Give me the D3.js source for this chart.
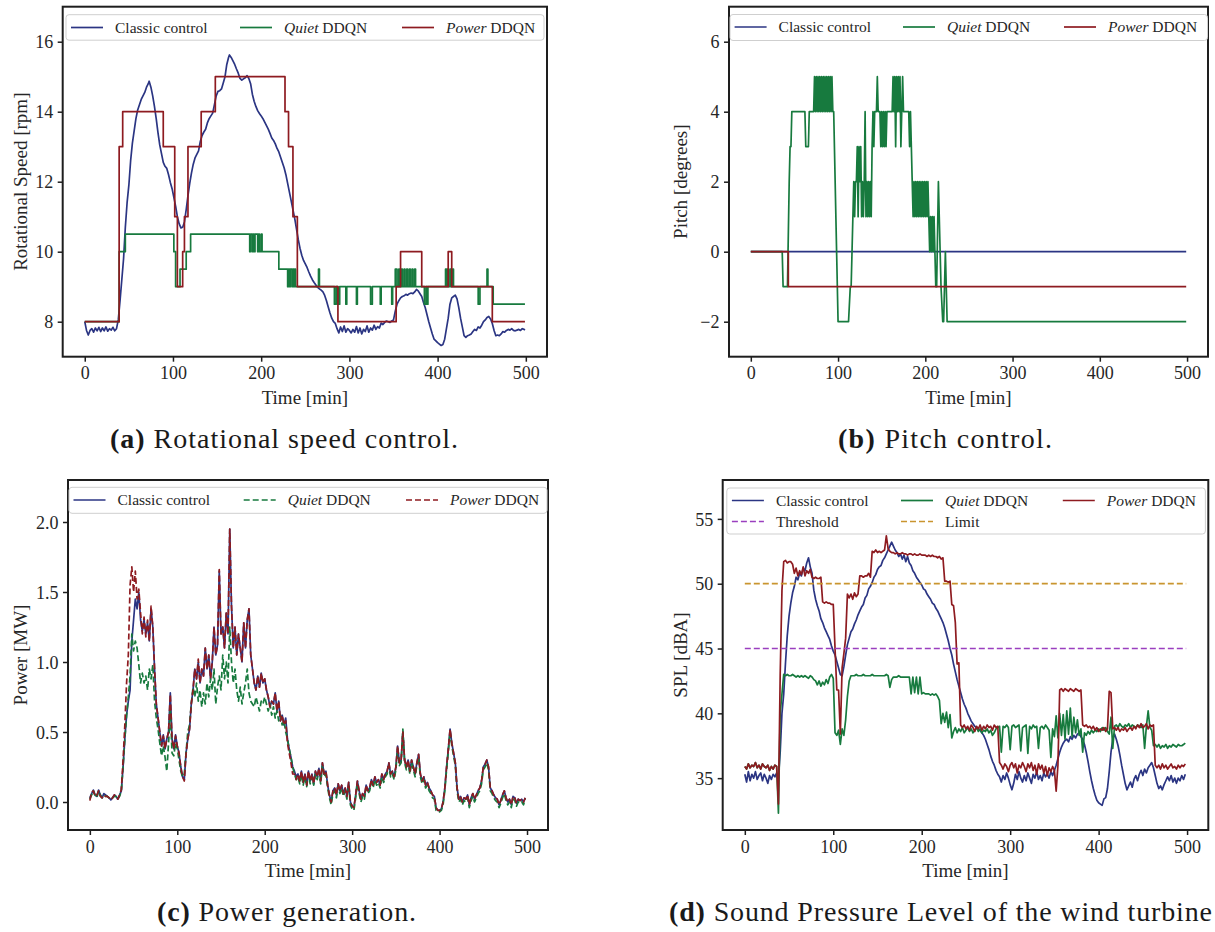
<!DOCTYPE html>
<html><head><meta charset="utf-8">
<script src="https://cdn.jsdelivr.net/npm/d3@7"></script>
<style>
body{margin:0;background:#fff}
svg{display:block}
</style>
</head><body>
<svg id="fig" width="1215" height="932"></svg>
<script>
// ---------------- DATA ----------------
const xTicks = [0, 100, 200, 300, 400, 500];
const speedTicks = [8, 10, 12, 14, 16];
const pitchTicks = [-2, 0, 2, 4, 6];
const powerTicks = [0, 0.5, 1.0, 1.5, 2.0];
const splTicks = [35, 40, 45, 50, 55];

const seriesNames = ["Classic control", "Quiet DDQN", "Power DDQN"];
const refNames = ["Threshold", "Limit"];

// (a) Rotational speed [rpm] — [time, value]
const classicSpeed = [[0,8.0],[2,7.75],[4,7.62],[6,7.75],[8,7.8],[10,7.7],[12,7.82],[14,7.74],[16,7.84],[18,7.72],[20,7.82],[22,7.74],[24,7.85],[26,7.73],[28,7.8],[30,7.76],[32,7.84],[34,7.74],[36,7.8],[38,8.05],[40,8.6],[42,9.2],[44,9.8],[46,10.7],[48,11.4],[50,11.9],[52,12.6],[54,13.1],[56,13.45],[58,13.8],[60,14.05],[62,14.2],[64,14.35],[66,14.45],[68,14.55],[70,14.7],[72,14.8],[73,14.87],[75,14.7],[77,14.45],[79,14.15],[81,13.8],[83,13.4],[85,13.05],[87,12.8],[89,12.55],[91,12.44],[93,12.38],[95,12.2],[97,11.98],[99,11.8],[101,11.55],[103,11.3],[105,11.0],[107,10.8],[109,10.68],[111,10.7],[113,10.85],[115,11.2],[117,11.6],[119,11.95],[121,12.25],[123,12.5],[125,12.68],[127,12.78],[129,12.88],[131,13.15],[133,13.32],[135,13.42],[137,13.5],[139,13.68],[141,13.8],[143,13.88],[145,13.96],[147,14.2],[149,14.45],[151,14.58],[153,14.6],[155,14.65],[157,14.82],[159,15.0],[161,15.35],[163,15.55],[164,15.62],[166,15.55],[168,15.45],[170,15.35],[172,15.22],[174,15.1],[176,14.95],[178,14.9],[180,14.94],[182,14.97],[184,15.03],[186,14.95],[188,14.8],[190,14.5],[192,14.3],[194,14.15],[196,14.03],[198,13.95],[200,13.88],[202,13.8],[204,13.7],[206,13.6],[208,13.5],[210,13.38],[212,13.25],[214,13.18],[216,13.08],[218,12.95],[220,12.85],[222,12.7],[224,12.55],[226,12.4],[228,12.2],[230,11.95],[232,11.7],[234,11.45],[236,11.2],[238,10.95],[240,10.65],[242,10.35],[244,10.1],[246,9.9],[248,9.75],[250,9.65],[252,9.55],[254,9.42],[256,9.3],[258,9.2],[260,9.12],[262,9.05],[264,8.98],[266,8.94],[268,8.9],[270,8.85],[272,8.75],[274,8.6],[276,8.42],[278,8.25],[280,8.1],[282,8.0],[284,7.95],[286,7.8],[288,7.68],[290,7.85],[292,7.72],[294,7.88],[296,7.7],[298,7.8],[300,7.75],[302,7.68],[304,7.78],[306,7.7],[308,7.86],[310,7.68],[312,7.82],[314,7.65],[316,7.78],[318,7.72],[320,7.88],[322,7.7],[324,7.82],[326,7.76],[328,7.9],[330,7.78],[332,7.86],[334,7.82],[336,7.96],[338,7.92],[340,7.98],[342,8.02],[344,8.0],[346,7.98],[348,8.02],[350,8.05],[352,8.3],[354,8.5],[356,8.6],[358,8.68],[360,8.72],[362,8.74],[364,8.78],[366,8.76],[368,8.8],[370,8.82],[372,8.8],[374,8.85],[376,8.92],[378,8.88],[380,8.8],[382,8.72],[384,8.55],[386,8.4],[388,8.2],[390,8.0],[392,7.82],[394,7.65],[396,7.5],[398,7.45],[400,7.4],[402,7.36],[404,7.32],[406,7.35],[408,7.5],[410,7.8],[412,8.1],[414,8.5],[416,8.68],[418,8.72],[420,8.76],[422,8.65],[424,8.4],[426,8.1],[428,7.85],[430,7.6],[432,7.55],[434,7.6],[436,7.62],[438,7.65],[440,7.72],[442,7.78],[444,7.75],[446,7.85],[448,7.82],[450,7.9],[452,8.0],[454,8.05],[456,8.12],[458,8.15],[460,8.08],[462,7.95],[464,7.75],[466,7.6],[468,7.62],[470,7.6],[472,7.65],[474,7.72],[476,7.7],[478,7.75],[480,7.78],[482,7.76],[484,7.8],[486,7.75],[488,7.74],[490,7.76],[492,7.78],[494,7.75],[496,7.8],[498,7.78],[499,7.76]];
// step series: [time of change, new value]
const quietSpeed = [[0,8],[39,10],[46,10.5],[101,10],[103,9],[108,9.5],[115,10],[120,10.5],[187,10],[188,10.5],[190,10],[191,10.5],[192,10],[193,10.5],[196,10],[197,10.5],[198,10],[200,10.5],[201,10],[220,9.5],[230,9],[231,9.5],[232,9],[233,9.5],[235,9],[236,9.5],[237,9],[238,9.5],[239,9],[265,9.5],[266,9],[283,8.5],[285,9],[287,8.5],[289,9],[296,8.5],[297,9],[308,8.5],[309,9],[324,8.5],[326,9],[335,8.5],[336,9],[348,8.5],[349,9],[352,9.5],[354,9],[356,9.5],[357,9],[359,9.5],[360,9],[362,9.5],[363,9],[365,9.5],[366,9],[368,9.5],[369,9],[371,9.5],[372,9],[374,9.5],[375,9],[385,8.5],[387,9],[388,8.5],[389,9],[409,9.5],[410,9],[411,9.5],[412,9],[414,9.5],[415,9],[417,9.5],[418,9],[446,8.5],[448,9],[456,9.5],[457,9],[463,8.5],[499,8.5]];
const powerSpeed = [[0,8],[39,13],[43,14],[89,13],[102,11],[105,9],[111,10],[113,11],[117,13],[132,14],[148,15],[227,14],[231,13],[236,11],[241,9],[287,8],[353,9],[358,10],[382,9],[412,10],[416,9],[462,8],[499,8]];

// (b) Pitch [degrees] — [time, value]
const classicPitch = [[0,0],[499,0]];
const quietPitch = [[0,0],[36,0],[37,-1],[42,-1],[44,2],[45,3],[46,3],[47,4],[62,4],[63,3],[66,3],[67,4],[72,4],[73,5],[74,4],[75,5],[76,4],[77,5],[78,4],[79,5],[80,4],[81,5],[82,4],[83,5],[84,4],[85,5],[86,4],[87,5],[88,4],[89,5],[90,4],[91,5],[92,4],[93,5],[94,4],[95,4],[100,-2],[112,-2],[114,-1],[115,-1],[118,2],[119,1],[120,2],[121,2],[122,3],[123,1],[124,3],[125,2],[126,3],[127,1],[128,2],[129,1],[130,2],[131,4],[132,1],[133,2],[134,1],[135,2],[136,1],[137,2],[138,1],[139,3],[140,4],[141,3],[142,4],[144,4],[145,5],[146,4],[148,4],[149,3],[150,4],[151,3],[152,4],[153,3],[154,4],[155,3],[156,4],[162,4],[163,5],[164,4],[165,5],[166,3],[167,5],[168,4],[169,5],[170,4],[171,5],[172,3],[173,4],[174,5],[175,4],[181,4],[182,3],[183,4],[184,3],[185,2],[186,1],[187,2],[188,1],[189,2],[190,1],[191,2],[192,1],[193,2],[194,1],[195,2],[196,1],[197,2],[198,1],[199,2],[200,1],[201,2],[202,1],[203,2],[204,1],[205,0],[206,1],[207,0],[208,1],[209,0],[210,1],[211,0],[212,-1],[213,-1],[215,2],[216,1],[218,-1],[220,-2],[221,-2],[223,0],[225,-2],[499,-2]];
const powerPitch = [[0,0],[43,0],[43,-1],[499,-1]];

// (c) Power [MW] and (d) SPL [dBA]: one value every 2 minutes, t = 0, 2, ..., 498
const sampleStep = 2;
const classicPower = [
 0.03,0.06,0.085,0.05,0.04,0.085,0.05,0.03,0.06,0.05,
 0.04,0.03,0.015,0.03,0.05,0.04,0.02,0.05,0.08,0.25,
 0.45,0.62,0.72,0.8,1.15,1.3,1.45,1.38,1.5,1.3,
 1.22,1.3,1.2,1.28,1.15,1.38,1.25,0.95,0.7,0.6,
 0.5,0.4,0.48,0.38,0.45,0.5,0.78,0.45,0.38,0.48,
 0.4,0.35,0.25,0.18,0.16,0.35,0.45,0.52,0.7,0.8,
 0.95,0.88,1.0,0.85,0.95,0.9,1.1,0.95,1.05,0.88,
 1.0,1.25,1.05,1.12,1.65,1.2,1.25,1.1,1.35,1.2,
 1.95,1.4,1.1,1.25,1.05,1.2,1.1,1.0,1.28,1.1,
 1.3,1.38,1.05,0.95,0.85,0.8,0.9,0.82,0.92,0.85,
 0.88,0.8,0.75,0.68,0.72,0.7,0.78,0.65,0.72,0.58,
 0.62,0.55,0.6,0.45,0.38,0.32,0.25,0.22,0.18,0.2,
 0.15,0.22,0.14,0.2,0.12,0.22,0.15,0.2,0.13,0.22,
 0.18,0.24,0.15,0.28,0.2,0.22,0.12,0.05,0.0,0.08,
 0.1,0.05,0.13,0.08,0.12,0.06,0.1,0.04,0.14,0.0,
 -0.03,-0.04,0.05,0.15,0.08,0.02,0.06,0.04,0.12,0.08,
 0.1,0.16,0.12,0.18,0.14,0.16,0.12,0.2,0.16,0.2,
 0.22,0.28,0.2,0.22,0.18,0.25,0.4,0.28,0.3,0.5,
 0.3,0.25,0.3,0.22,0.3,0.25,0.2,0.28,0.34,0.2,
 0.15,0.18,0.12,0.14,0.1,0.08,0.05,0.04,-0.04,-0.06,
 -0.06,-0.05,0.0,0.1,0.25,0.38,0.52,0.42,0.35,0.28,
 0.1,0.02,0.04,0.0,0.03,0.02,0.05,-0.02,0.03,0.06,
 0.02,0.05,0.08,0.1,0.15,0.25,0.27,0.3,0.25,0.1,
 0.08,0.05,0.03,0.02,-0.02,0.01,0.05,0.08,0.03,0.0,
 0.02,-0.02,0.04,0.03,-0.01,0.02,0.01,0.02,0.0,0.03];
const quietPower = [
 0.02,0.05,0.08,0.05,0.03,0.08,0.05,0.03,0.05,0.04,
 0.04,0.03,0.02,0.03,0.04,0.04,0.02,0.04,0.08,0.25,
 0.45,0.62,0.75,0.9,1.2,1.08,1.15,1.1,0.98,0.85,
 0.92,0.85,0.9,0.8,0.95,0.88,0.98,0.72,0.6,0.52,
 0.42,0.33,0.4,0.32,0.22,0.42,0.65,0.35,0.33,0.42,
 0.38,0.3,0.22,0.18,0.2,0.35,0.5,0.55,0.7,0.82,
 0.75,0.85,0.72,0.8,0.68,0.78,0.7,0.85,0.75,0.88,
 0.8,0.95,0.7,0.82,0.9,0.8,1.05,0.88,1.0,0.85,
 1.25,1.0,0.85,0.95,0.8,0.72,0.82,0.7,0.78,0.85,
 0.95,0.78,0.72,0.7,0.68,0.75,0.7,0.65,0.72,0.7,
 0.75,0.7,0.65,0.7,0.62,0.68,0.6,0.65,0.58,0.62,
 0.55,0.58,0.5,0.45,0.38,0.32,0.25,0.2,0.16,0.18,
 0.13,0.2,0.12,0.18,0.11,0.2,0.13,0.18,0.12,0.2,
 0.16,0.22,0.13,0.26,0.18,0.2,0.1,0.03,-0.02,0.06,
 0.08,0.03,0.11,0.06,0.1,0.04,0.08,0.02,0.12,-0.02,
 -0.05,-0.06,0.03,0.13,0.06,0.0,0.04,0.02,0.1,0.06,
 0.08,0.14,0.1,0.16,0.12,0.14,0.1,0.18,0.14,0.18,
 0.2,0.26,0.18,0.2,0.16,0.23,0.38,0.26,0.28,0.52,
 0.28,0.23,0.28,0.2,0.28,0.23,0.18,0.26,0.32,0.18,
 0.13,0.16,0.1,0.12,0.08,0.06,0.03,0.02,-0.06,-0.07,
 -0.07,-0.06,-0.02,0.08,0.23,0.36,0.5,0.4,0.33,0.26,
 0.08,0.0,0.02,-0.02,0.01,0.0,0.03,-0.04,0.01,0.04,
 0.0,0.03,0.06,0.08,0.13,0.23,0.25,0.28,0.23,0.08,
 0.06,0.03,0.01,0.0,-0.04,-0.01,0.03,0.06,0.01,-0.02,
 0.0,-0.04,0.02,0.01,-0.03,0.0,-0.01,0.0,-0.02,0.02];
const powerPower = [
 0.01,0.07,0.08,0.04,0.05,0.08,0.04,0.03,0.05,0.04,
 0.04,0.03,0.015,0.03,0.05,0.04,0.02,0.05,0.09,0.3,
 0.55,0.85,1.05,1.55,1.68,1.5,1.65,1.45,1.52,1.35,
 1.2,1.32,1.18,1.3,1.15,1.4,1.25,0.95,0.7,0.6,
 0.5,0.4,0.47,0.38,0.45,0.5,0.77,0.45,0.38,0.47,
 0.4,0.35,0.25,0.18,0.15,0.34,0.45,0.52,0.7,0.8,
 0.95,0.88,1.02,0.85,0.95,0.9,1.1,0.95,1.05,0.88,
 1.0,1.25,1.05,1.12,1.66,1.2,1.25,1.1,1.35,1.2,
 1.95,1.4,1.1,1.25,1.05,1.2,1.1,1.0,1.28,1.1,
 1.3,1.38,1.05,0.95,0.85,0.8,0.9,0.82,0.92,0.85,
 0.88,0.8,0.75,0.68,0.72,0.7,0.78,0.65,0.72,0.58,
 0.62,0.55,0.58,0.42,0.35,0.28,0.2,0.2,0.16,0.2,
 0.15,0.22,0.14,0.2,0.12,0.22,0.15,0.2,0.13,0.22,
 0.18,0.24,0.15,0.28,0.2,0.22,0.12,0.05,0.0,0.08,
 0.1,0.05,0.13,0.08,0.12,0.06,0.1,0.04,0.14,0.0,
 -0.03,-0.04,0.05,0.15,0.08,0.02,0.06,0.04,0.12,0.08,
 0.1,0.16,0.12,0.18,0.14,0.16,0.12,0.2,0.16,0.2,
 0.22,0.28,0.2,0.22,0.18,0.25,0.4,0.28,0.3,0.5,
 0.3,0.25,0.3,0.22,0.3,0.25,0.2,0.28,0.34,0.2,
 0.15,0.18,0.12,0.14,0.1,0.08,0.05,0.04,-0.04,-0.06,
 -0.06,-0.05,0.0,0.1,0.25,0.38,0.52,0.42,0.35,0.28,
 0.1,0.02,0.04,0.0,0.03,0.02,0.05,-0.02,0.03,0.06,
 0.02,0.05,0.08,0.1,0.15,0.25,0.27,0.3,0.25,0.1,
 0.08,0.05,0.03,0.02,-0.02,0.01,0.05,0.08,0.03,0.0,
 0.02,-0.02,0.04,0.03,-0.01,0.02,0.01,0.02,0.0,0.03];

const classicSPL = [
 35.3,34.7,35.5,34.8,35.3,35.0,35.5,34.9,35.2,35.4,
 34.8,35.3,35.0,34.6,35.2,34.9,35.3,35.1,35.4,35.0,
 37.0,40.0,41.5,43.9,46.0,47.5,48.5,49.3,49.8,50.5,
 50.3,50.8,50.6,51.2,51.0,51.6,52.0,51.3,50.8,49.5,
 48.8,48.3,47.9,47.3,47.0,46.6,46.3,46.0,45.7,45.2,
 44.8,44.5,44.0,43.5,43.0,42.9,43.6,44.5,45.3,45.8,
 46.3,46.5,46.9,47.2,47.6,47.9,48.2,48.4,48.9,49.1,
 49.6,49.8,50.1,50.5,50.7,51.1,51.3,51.4,51.8,52.0,
 52.3,52.6,52.9,53.2,52.9,52.6,52.4,52.1,52.3,51.9,
 52.2,51.7,52.1,51.6,51.4,51.0,50.8,50.5,50.3,50.1,
 49.9,49.6,49.5,49.2,49.0,48.8,48.5,48.4,48.1,47.9,
 47.6,47.3,47.0,46.6,46.1,45.6,45.0,44.5,43.8,43.2,
 42.6,42.1,41.6,41.1,40.7,40.4,40.0,39.7,39.4,39.2,
 39.0,38.9,38.8,38.7,38.5,38.3,38.0,37.6,37.2,36.7,
 36.3,36.0,35.6,35.3,35.1,34.7,35.2,34.9,35.4,35.0,
 34.5,34.1,34.6,35.3,34.9,35.5,35.0,34.7,35.2,34.8,
 35.4,35.0,34.6,35.3,35.0,35.5,34.9,35.2,34.8,35.4,
 35.1,35.3,35.0,35.5,35.2,35.6,36.0,36.5,37.0,37.4,
 37.7,37.9,38.0,37.8,38.2,38.0,38.3,38.1,38.4,38.5,
 38.2,38.0,37.6,37.0,36.3,35.5,34.8,34.2,33.7,33.3,
 33.1,33.0,32.9,33.4,33.5,34.2,35.5,37.0,38.0,38.4,
 38.0,37.5,36.8,36.0,35.3,34.6,34.1,34.4,34.7,34.3,
 34.9,35.2,34.8,35.3,35.6,35.2,35.7,35.4,35.8,36.0,
 36.2,35.8,35.2,34.6,34.2,34.4,34.1,34.5,34.8,35.1,
 34.8,35.2,34.7,35.0,34.6,35.0,34.8,35.2,34.9,35.3];
const quietSPL = [
 35.9,35.7,36.1,35.8,36.0,35.9,36.2,35.8,36.0,35.7,
 36.1,35.9,35.8,36.0,35.6,35.9,35.7,36.0,35.9,32.3,
 40.0,41.5,43.0,42.9,43.0,42.9,42.9,43.0,42.9,42.8,
 42.9,42.8,42.9,42.8,42.9,42.8,42.7,42.9,42.8,42.6,
 42.5,42.2,42.5,42.1,42.4,42.2,42.6,42.3,42.8,43.0,
 42.7,38.5,38.3,38.7,37.6,38.8,38.3,39.5,41.3,42.5,
 42.9,42.9,42.9,43.0,42.9,42.9,42.9,43.0,42.9,42.9,
 42.9,42.9,43.0,42.9,42.9,42.9,42.9,42.9,42.9,42.9,
 43.0,42.9,42.0,42.6,42.8,42.8,42.8,42.9,42.8,42.8,
 42.8,42.8,42.8,42.8,41.5,42.8,41.6,42.8,41.5,42.8,
 41.5,41.6,41.5,41.5,41.5,41.4,41.5,41.4,41.5,41.3,
 41.0,39.2,40.0,39.3,40.1,38.9,39.9,38.1,38.6,38.9,
 38.5,38.8,38.6,38.9,38.5,38.7,38.9,38.6,38.8,38.5,
 38.7,38.9,38.6,38.8,38.5,38.7,38.6,38.8,38.5,38.7,
 38.3,38.5,38.8,38.9,39.0,37.0,39.0,38.9,39.1,38.9,
 37.2,39.0,39.1,38.9,39.0,39.1,37.1,38.9,39.0,39.1,
 36.9,39.0,38.8,39.1,38.9,39.0,37.3,38.9,39.0,38.8,
 39.1,38.9,38.7,36.6,38.8,38.2,39.8,38.1,40.0,38.3,
 39.9,38.0,40.2,38.4,40.4,38.2,39.7,38.5,39.5,38.3,
 38.8,37.0,38.5,38.3,38.6,38.4,38.7,38.5,38.7,38.6,
 38.8,38.6,38.9,38.7,38.9,38.6,38.4,39.7,37.3,39.0,
 39.1,38.9,39.2,39.0,38.9,39.1,39.0,39.2,38.9,39.1,
 39.0,38.9,39.1,39.0,38.9,39.1,37.3,39.0,40.2,38.9,
 38.7,37.5,37.6,37.4,37.6,37.3,37.5,37.4,37.6,37.3,
 37.5,37.4,37.6,37.5,37.4,37.6,37.5,37.5,37.6,37.7];
const powerSPL = [
 35.9,35.7,36.1,35.8,36.0,35.9,36.2,35.8,36.0,35.7,
 36.1,35.9,35.8,36.0,35.6,35.9,35.7,36.0,35.9,33.0,
 43.0,49.5,51.7,51.8,51.6,51.7,51.7,51.5,50.8,51.2,
 50.6,51.0,50.7,51.3,50.6,51.0,50.8,51.1,50.5,50.4,
 50.5,50.4,50.4,50.5,48.6,48.5,48.6,48.5,48.5,48.4,
 48.4,45.0,41.8,41.8,38.4,43.5,44.6,45.8,49.2,48.9,
 49.2,48.8,49.3,49.0,49.2,50.6,50.6,50.5,50.6,50.6,
 50.8,50.5,52.5,52.4,52.6,52.4,52.5,52.4,52.5,52.6,
 53.7,52.7,52.5,52.4,52.4,52.3,52.4,52.3,52.3,52.4,
 52.3,52.3,52.2,52.3,52.3,52.2,52.3,52.2,52.2,52.3,
 52.2,52.2,52.2,52.1,52.2,52.1,52.2,52.1,52.1,52.0,
 52.1,51.9,52.0,50.2,50.2,50.1,50.2,48.4,48.3,47.0,
 43.8,43.9,39.1,38.9,39.1,38.8,39.0,38.7,39.1,38.9,
 38.6,39.0,38.8,39.1,38.7,39.0,38.8,39.1,38.9,39.0,
 38.7,39.1,38.9,39.0,36.2,36.0,35.7,36.1,35.9,35.5,
 36.0,36.2,35.8,36.1,35.4,36.0,35.8,36.2,35.9,35.5,
 36.1,35.8,36.2,35.6,36.0,35.3,36.1,35.7,36.0,35.4,
 35.9,35.2,35.8,35.5,35.9,35.6,34.0,36.0,41.8,41.9,
 41.7,41.9,41.8,41.7,41.9,41.8,41.7,41.9,41.8,41.7,
 41.8,39.1,39.0,39.1,38.9,39.0,38.8,39.0,38.7,38.9,
 38.6,38.8,38.7,38.9,38.6,38.8,41.7,41.6,38.8,38.9,
 38.7,38.9,38.6,38.8,38.7,38.9,38.6,38.8,38.9,38.7,
 39.0,38.8,39.1,38.9,39.2,38.9,39.0,39.2,38.8,39.1,
 39.0,39.1,36.0,35.8,36.0,35.7,36.1,35.8,36.0,35.7,
 35.9,36.1,35.8,35.9,35.7,36.0,35.8,36.0,35.9,36.1];
const thresholdSPL = [[0,45],[499,45]];
const limitSPL = [[0,50],[499,50]];

// ---------------- STYLE / LAYOUT ----------------
const FONT = '"Liberation Serif","Times New Roman",serif';
const TXT = "#262626";
const C_BLUE = "#2b3583", C_GREEN = "#177a3e", C_RED = "#8e1b20", C_PURPLE = "#9a3fbf", C_GOLD = "#c9952f";
const DASH = "6,3";
const X_DOMAIN = [-25, 524];

const svg = d3.select("#fig");
svg.append("rect").attr("width", 1215).attr("height", 932).attr("fill", "#fff");

const toPairs = vals => vals.map((v, i) => [i * sampleStep, v]);

function drawPanel(cfg) {
  const g = svg.append("g");
  const x = d3.scaleLinear().domain(X_DOMAIN).range([cfg.left, cfg.right]);
  const y = d3.scaleLinear().domain(cfg.yDomain).range([cfg.bottom, cfg.top]);
  const clipId = "clip-" + cfg.id;
  svg.append("clipPath").attr("id", clipId).append("rect")
    .attr("x", cfg.left).attr("y", cfg.top)
    .attr("width", cfg.right - cfg.left).attr("height", cfg.bottom - cfg.top);
  const plot = g.append("g").attr("clip-path", `url(#${clipId})`);
  cfg.series.forEach(s => {
    const line = d3.line().x(d => x(d[0])).y(d => y(d[1]))
      .curve(s.step ? d3.curveStepAfter : d3.curveLinear);
    plot.append("path").datum(s.data).attr("d", line)
      .attr("fill", "none").attr("stroke", s.color)
      .attr("stroke-width", s.width || 1.7)
      .attr("stroke-dasharray", s.dash || null)
      .attr("stroke-linejoin", "round");
  });

  const xAxis = d3.axisBottom(x).tickValues(xTicks).tickSize(5).tickPadding(5).tickFormat(d3.format("d"));
  const gx = g.append("g").attr("transform", `translate(0,${cfg.bottom})`).call(xAxis);
  const yAxis = d3.axisLeft(y).tickValues(cfg.yTicks).tickSize(5).tickPadding(4.5).tickFormat(cfg.yFormat);
  const gy = g.append("g").attr("transform", `translate(${cfg.left},0)`).call(yAxis);
  [gx, gy].forEach(ax => {
    ax.attr("font-family", FONT).attr("font-size", 18);
    ax.select(".domain").remove();
    ax.selectAll(".tick line").attr("stroke", "#1e1e1e").attr("stroke-width", 1.5);
    ax.selectAll(".tick text").attr("fill", TXT);
  });
  gy.selectAll(".tick text").attr("dy", "0.34em");

  g.append("rect").attr("x", cfg.left).attr("y", cfg.top)
    .attr("width", cfg.right - cfg.left).attr("height", cfg.bottom - cfg.top)
    .attr("fill", "none").attr("stroke", "#1e1e1e").attr("stroke-width", 2);

  // axis labels
  g.append("text").attr("x", (cfg.left + cfg.right) / 2).attr("y", cfg.bottom + 47)
    .attr("text-anchor", "middle").attr("font-family", FONT).attr("font-size", 19)
    .attr("fill", TXT).text("Time [min]");
  g.append("text").attr("transform", `translate(${cfg.yLabelX},${(cfg.top + cfg.bottom) / 2}) rotate(-90)`)
    .attr("text-anchor", "middle").attr("dy", "0.33em").attr("font-family", FONT).attr("font-size", 19)
    .attr("fill", TXT).text(cfg.yLabel);

  // legend
  const L = cfg.legend;
  const lg = g.append("g");
  lg.append("rect").attr("x", L.x).attr("y", L.y).attr("width", L.w).attr("height", L.h)
    .attr("rx", 3).attr("fill", "#fff").attr("fill-opacity", 0.8)
    .attr("stroke", "#cfcfcf").attr("stroke-width", 1);
  L.items.forEach((it, i) => {
    const hx = L.cols[i % 3], cy = L.rows[Math.floor(i / 3)];
    lg.append("line").attr("x1", hx).attr("x2", hx + 32).attr("y1", cy).attr("y2", cy)
      .attr("stroke", it.color).attr("stroke-width", 1.7).attr("stroke-dasharray", it.dash || null);
    const t = lg.append("text").attr("x", hx + 44).attr("y", cy).attr("dy", "0.33em")
      .attr("font-family", FONT).attr("font-size", 15.5).attr("fill", TXT);
    const parts = it.label.split(" ");
    if (it.italicFirst) {
      t.append("tspan").attr("font-style", "italic").text(parts[0]);
      t.append("tspan").text(" " + parts.slice(1).join(" "));
    } else t.text(it.label);
  });

  // caption
  const cap = svg.append("text").attr("x", cfg.capX).attr("y", cfg.capY)
    .attr("font-family", FONT).attr("font-size", 28).attr("fill", "#1a1a1a")
    .attr("textLength", cfg.capLen);
  cap.append("tspan").attr("font-weight", "bold").text(cfg.capTag);
  cap.append("tspan").text(" " + cfg.capText);
}

const legendItems = (dashQ, dashP) => [
  { label: seriesNames[0], color: C_BLUE },
  { label: seriesNames[1], color: C_GREEN, italicFirst: true, dash: dashQ },
  { label: seriesNames[2], color: C_RED, italicFirst: true, dash: dashP }
];

drawPanel({
  id: "a", left: 62.7, right: 547, top: 6.7, bottom: 356.7, yDomain: [7, 17], yTicks: speedTicks,
  yFormat: d3.format("d"), yLabel: "Rotational Speed [rpm]", yLabelX: 21,
  series: [
    { data: classicSpeed, color: C_BLUE },
    { data: quietSpeed, color: C_GREEN, step: true },
    { data: powerSpeed, color: C_RED, step: true }
  ],
  legend: { x: 66, y: 14.7, w: 478, h: 25.5, cols: [71, 240, 402], rows: [27.5], items: legendItems() },
  capX: 110, capY: 447.5, capLen: 348, capTag: "(a)", capText: "Rotational speed control."
});

drawPanel({
  id: "b", left: 729, right: 1208, top: 6.7, bottom: 356.7, yDomain: [-3, 7], yTicks: pitchTicks,
  yFormat: d3.format("d"), yLabel: "Pitch [degrees]", yLabelX: 681,
  series: [
    { data: classicPitch, color: C_BLUE },
    { data: quietPitch, color: C_GREEN },
    { data: powerPitch, color: C_RED }
  ],
  legend: { x: 730, y: 14.5, w: 477.5, h: 26, cols: [734.6, 903, 1064], rows: [27], items: legendItems() },
  capX: 838, capY: 447.5, capLen: 214, capTag: "(b)", capText: "Pitch control."
});

drawPanel({
  id: "c", left: 68, right: 548, top: 480, bottom: 830, yDomain: [-0.2, 2.3], yTicks: powerTicks,
  yFormat: d3.format(".1f"), yLabel: "Power [MW]", yLabelX: 21,
  series: [
    { data: toPairs(classicPower), color: C_BLUE },
    { data: toPairs(quietPower), color: C_GREEN, dash: DASH },
    { data: toPairs(powerPower), color: C_RED, dash: DASH }
  ],
  legend: { x: 69, y: 487.3, w: 478, h: 26, cols: [73.5, 243.7, 406], rows: [500], items: legendItems(DASH, DASH) },
  capX: 157, capY: 921, capLen: 259, capTag: "(c)", capText: "Power generation."
});

drawPanel({
  id: "d", left: 722.7, right: 1208.3, top: 480, bottom: 830, yDomain: [31, 58], yTicks: splTicks,
  yFormat: d3.format("d"), yLabel: "SPL [dBA]", yLabelX: 681,
  series: [
    { data: toPairs(classicSPL), color: C_BLUE },
    { data: toPairs(quietSPL), color: C_GREEN },
    { data: toPairs(powerSPL), color: C_RED },
    { data: thresholdSPL, color: C_PURPLE, dash: DASH },
    { data: limitSPL, color: C_GOLD, dash: DASH }
  ],
  legend: { x: 726.8, y: 488, w: 478.6, h: 46, cols: [731.9, 901, 1062.8], rows: [500.5, 521.5],
    items: legendItems().concat([
      { label: refNames[0], color: C_PURPLE, dash: DASH },
      { label: refNames[1], color: C_GOLD, dash: DASH }
    ]) },
  capX: 669, capY: 921, capLen: 543, capTag: "(d)", capText: "Sound Pressure Level of the wind turbine"
});
</script>
</body></html>
